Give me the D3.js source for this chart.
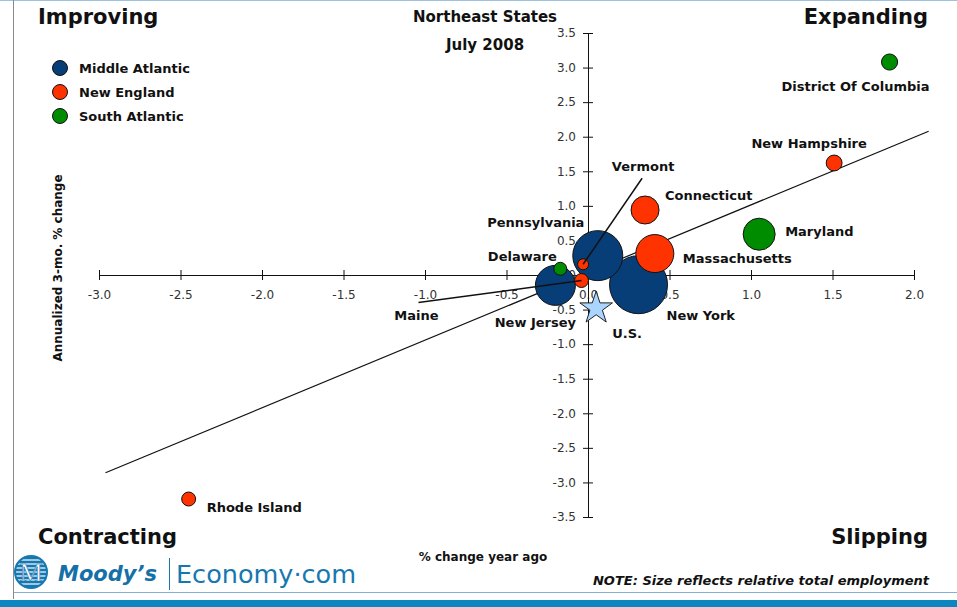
<!DOCTYPE html>
<html lang="en">
<head>
<meta charset="utf-8">
<script src="https://cdn.jsdelivr.net/npm/d3@7"></script>
<style>
    body { margin: 0; background: #fff; }
    svg { display: block; font-family: "DejaVu Sans", Verdana, sans-serif; }
    .lbl { font-weight: bold; font-size: 13px; fill: #111; }
    .tick text { font-size: 12px; fill: #333; font-family: "DejaVu Sans", sans-serif; }
</style>
</head>
<body>
<script>
    // data
    let states = ["District Of Columbia", "New Hampshire", "Maryland", "Connecticut", "Massachusetts",
                  "New York", "Pennsylvania", "Delaware", "Vermont", "Maine", "New Jersey", "Rhode Island"];
    let regions = ["South Atlantic", "New England", "South Atlantic", "New England", "New England",
                   "Middle Atlantic", "Middle Atlantic", "South Atlantic", "New England", "New England",
                   "Middle Atlantic", "New England"];
    let yoyChange = [1.85, 1.51, 1.05, 0.35, 0.41, 0.31, 0.06, -0.17, -0.03, -0.04, -0.20, -2.45];
    let annualized3mo = [3.08, 1.62, 0.59, 0.94, 0.31, -0.14, 0.28, 0.09, 0.155, -0.08, -0.15, -3.24];
    let employment = [680, 660, 2680, 2050, 3780, 8800, 6540, 440, 320, 510, 4190, 510];
    let usPoint = [0.05, -0.48];
    let trendX = [-2.96, 2.09];
    let trendY = [-2.86, 2.08];
    let legendNames = ["Middle Atlantic", "New England", "South Atlantic"];
    let legendColors = ["#073e78", "#ff3300", "#008c00"];
    let xTicks = [-3.0, -2.5, -2.0, -1.5, -1.0, -0.5, 0.0, 0.5, 1.0, 1.5, 2.0];
    let yTicks = [-3.5, -3.0, -2.5, -2.0, -1.5, -1.0, -0.5, 0.0, 0.5, 1.0, 1.5, 2.0, 2.5, 3.0, 3.5];

    // label placement (pixel offsets from the point)
    let labelPos = {
        "District Of Columbia": [-34, 24, "middle"],
        "New Hampshire": [-25, -20, "middle"],
        "Maryland": [26, -3, "start"],
        "Connecticut": [20, -15, "start"],
        "Massachusetts": [28, 5, "start"],
        "New York": [28, 31, "start"],
        "Pennsylvania": [-62, -33, "middle"],
        "Delaware": [-38, -12, "middle"],
        "Vermont": [60, -98, "middle"],
        "Maine": [-165, 35, "middle"],
        "New Jersey": [-20, 37, "middle"],
        "Rhode Island": [18, 8, "start"]
    };
    let leaders = { "Vermont": [59, -86], "Maine": [-163, 22] };

    let w = 957, h = 607;
    let svg = d3.select("body").append("svg").attr("width", w).attr("height", h);

    // frame
    svg.append("line").attr("x1", 0).attr("x2", w).attr("y1", 0.5).attr("y2", 0.5)
        .attr("stroke", "#9ec3e0").attr("stroke-width", 1);
    svg.append("line").attr("x1", 13.5).attr("x2", 13.5).attr("y1", 0).attr("y2", 599)
        .attr("stroke", "#8a8a8a").attr("stroke-width", 1);
    svg.append("line").attr("x1", 14).attr("x2", w).attr("y1", 592.5).attr("y2", 592.5)
        .attr("stroke", "#86aed0").attr("stroke-width", 1);
    svg.append("rect").attr("x", 0).attr("y", 600).attr("width", w).attr("height", 7).attr("fill", "#0b86c0");

    let x = d3.scaleLinear().domain([-3, 2]).range([99, 914]);
    let y = d3.scaleLinear().domain([-3.5, 3.5]).range([517, 33]);
    let r = d3.scaleSqrt().domain([0, 8800]).range([0, 29]);
    let color = d3.scaleOrdinal().domain(legendNames).range(legendColors);
    let fmt = (d) => d.toFixed(1);

    // axes
    let xAxis = d3.axisBottom(x).tickValues(xTicks).tickFormat(fmt).tickSizeInner(5).tickSizeOuter(0).tickPadding(10);
    let gx = svg.append("g").attr("transform", "translate(0," + y(0) + ")").call(xAxis);
    gx.selectAll(".tick line").attr("y1", -5).attr("y2", 5);

    let yAxis = d3.axisLeft(y).tickValues(yTicks).tickFormat(fmt).tickSizeInner(5).tickSizeOuter(0).tickPadding(7);
    let gy = svg.append("g").attr("transform", "translate(" + x(0) + ",0)").call(yAxis);
    gy.selectAll(".tick line").attr("x1", -5).attr("x2", 5);
    svg.selectAll(".domain, .tick line").attr("stroke", "#111");

    // trend line
    svg.append("line")
        .attr("x1", x(trendX[0])).attr("y1", y(trendY[0]))
        .attr("x2", x(trendX[1])).attr("y2", y(trendY[1]))
        .attr("stroke", "#111").attr("stroke-width", 1.2);

    let pts = states.map((s, i) => ({ name: s, region: regions[i], x: yoyChange[i], y: annualized3mo[i], emp: employment[i] }));

    // bubbles, largest first
    svg.append("g").selectAll("circle")
        .data(pts.slice().sort((a, b) => b.emp - a.emp))
        .enter().append("circle")
        .attr("cx", (d) => x(d.x)).attr("cy", (d) => y(d.y)).attr("r", (d) => r(d.emp))
        .attr("fill", (d) => color(d.region)).attr("stroke", "#111").attr("stroke-width", 1);

    // leader lines
    pts.filter((d) => leaders[d.name]).forEach((d) => {
        svg.append("line")
            .attr("x1", x(d.x) + leaders[d.name][0]).attr("y1", y(d.y) + leaders[d.name][1])
            .attr("x2", x(d.x)).attr("y2", y(d.y))
            .attr("stroke", "#111").attr("stroke-width", 1.5);
    });

    // U.S. star
    svg.append("path")
        .attr("d", d3.symbol().type(d3.symbolStar).size(330))
        .attr("transform", "translate(" + x(usPoint[0]) + "," + y(usPoint[1]) + ")")
        .attr("fill", "#aad5ff").attr("stroke", "#222").attr("stroke-width", 1);
    svg.append("text").attr("class", "lbl")
        .attr("x", x(usPoint[0]) + 31).attr("y", y(usPoint[1]) + 25).attr("dy", "0.35em")
        .attr("text-anchor", "middle").text("U.S.");

    // state labels
    svg.append("g").selectAll("text")
        .data(pts).enter().append("text").attr("class", "lbl")
        .attr("x", (d) => x(d.x) + labelPos[d.name][0])
        .attr("y", (d) => y(d.y) + labelPos[d.name][1])
        .attr("dy", "0.35em")
        .attr("text-anchor", (d) => labelPos[d.name][2])
        .text((d) => d.name);

    // legend
    let lg = svg.append("g").attr("transform", "translate(60,68)");
    legendNames.forEach((n, i) => {
        lg.append("circle").attr("cx", 0).attr("cy", i * 24).attr("r", 7.5)
            .attr("fill", legendColors[i]).attr("stroke", "#111");
        lg.append("text").attr("class", "lbl").attr("x", 19).attr("y", i * 24).attr("dy", "0.35em").text(n);
    });

    // titles
    svg.append("text").attr("class", "lbl").attr("x", 485).attr("y", 17).attr("dy", "0.35em")
        .attr("text-anchor", "middle").attr("font-size", "15px").style("font-size", "15px").text("Northeast States");
    svg.append("text").attr("class", "lbl").attr("x", 485).attr("y", 45).attr("dy", "0.35em")
        .attr("text-anchor", "middle").style("font-size", "15px").text("July 2008");

    let quad = [["Improving", 38, 17, "start"], ["Expanding", 928, 17, "end"],
                ["Contracting", 38, 537, "start"], ["Slipping", 928, 537, "end"]];
    quad.forEach((q) => {
        svg.append("text").attr("x", q[1]).attr("y", q[2]).attr("dy", "0.35em")
            .attr("text-anchor", q[3]).attr("font-size", "21px").attr("font-weight", "bold")
            .attr("fill", "#111").text(q[0]);
    });

    svg.append("text").attr("transform", "translate(58,268) rotate(-90)")
        .attr("dy", "0.35em").attr("text-anchor", "middle")
        .attr("font-size", "12px").attr("font-weight", "bold").attr("fill", "#111")
        .text("Annualized 3-mo. % change");
    svg.append("text").attr("x", 483).attr("y", 557).attr("dy", "0.35em").attr("text-anchor", "middle")
        .attr("font-size", "12px").attr("font-weight", "bold").attr("fill", "#111")
        .text("% change year ago");

    svg.append("text").attr("x", 929).attr("y", 580).attr("dy", "0.35em").attr("text-anchor", "end")
        .attr("font-size", "13px").attr("font-weight", "bold").attr("font-style", "italic").attr("fill", "#111")
        .text("NOTE: Size reflects relative total employment");

    // logo
    let logo = svg.append("g").attr("transform", "translate(31,572)");
    logo.append("circle").attr("r", 16).attr("fill", "#1678b0");
    for (let k = -12; k <= 12; k += 4) {
        logo.append("line").attr("x1", -16).attr("x2", 16).attr("y1", k).attr("y2", k)
            .attr("stroke", "#fff").attr("stroke-width", 1.2);
    }
    logo.append("circle").attr("r", 16).attr("fill", "none").attr("stroke", "#1678b0").attr("stroke-width", 2);
    logo.append("text").attr("dy", "0.35em").attr("text-anchor", "middle")
        .attr("font-family", "Liberation Serif, serif").attr("font-size", "26px").attr("fill", "#fff")
        .attr("stroke", "#1678b0").attr("stroke-width", 0.6).text("M");
    svg.append("text").attr("x", 58).attr("y", 574).attr("dy", "0.35em")
        .attr("font-size", "21px").attr("font-weight", "bold").attr("font-style", "italic")
        .attr("fill", "#1570a8").text("Moody\u2019s");
    svg.append("line").attr("x1", 169.5).attr("x2", 169.5).attr("y1", 558).attr("y2", 590)
        .attr("stroke", "#1678b0").attr("stroke-width", 1);
    svg.append("text").attr("x", 176).attr("y", 574).attr("dy", "0.35em")
        .attr("font-size", "25.5px").attr("fill", "#1678b0").text("Economy\u00b7com");
</script>
</body>
</html>
